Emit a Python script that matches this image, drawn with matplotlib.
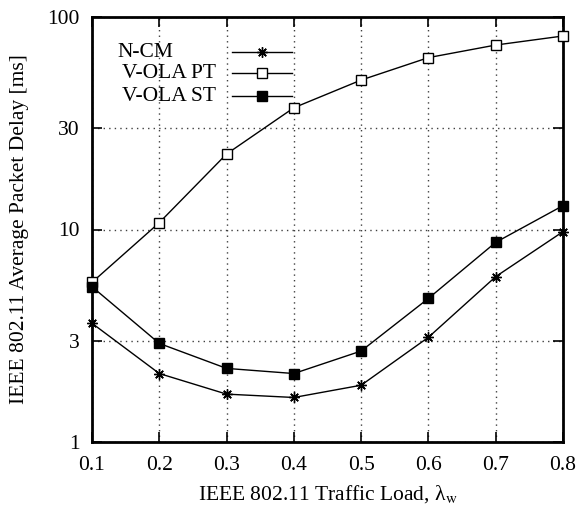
import matplotlib
matplotlib.use("Agg")
import matplotlib.pyplot as plt
from matplotlib.lines import Line2D
from matplotlib.ticker import FixedLocator, NullLocator, FixedFormatter

plt.rcParams['font.family'] = ['Liberation Serif', 'DejaVu Serif']
plt.rcParams['mathtext.fontset'] = 'stix'

load = [0.1, 0.2, 0.3, 0.4, 0.5, 0.6, 0.7, 0.8]
ncm = [3.62, 2.10, 1.68, 1.62, 1.85, 3.11, 6.00, 9.77]
vola_pt = [5.64, 10.77, 22.66, 37.4, 50.5, 64.4, 73.8, 81.4]
vola_st = [5.38, 2.91, 2.22, 2.10, 2.68, 4.74, 8.70, 12.95]
series_names = ['N-CM', 'V-OLA PT', 'V-OLA ST']

xticks = [0.1, 0.2, 0.3, 0.4, 0.5, 0.6, 0.7, 0.8]
xticklabels = ["0.1", "0.2", "0.3", "0.4", "0.5", "0.6", "0.7", "0.8"]
yticks = [1, 3, 10, 30, 100]
yticklabels = ["1", "3", "10", "30", "100"]

fig = plt.figure(figsize=(5.77, 5.07), dpi=100)
ax = fig.add_axes([92/577, 65/507, (563-92)/577, (442-17)/507])

styles = [
    dict(marker=(8, 2, 0), ms=7.5, mew=1, mfc='black', mec='black'),
    dict(marker='s', ms=7.5, mew=1, mfc='white', mec='black'),
    dict(marker='s', ms=7.5, mew=1, mfc='black', mec='black'),
]

for ys, name, st in zip([ncm, vola_pt, vola_st], series_names, styles):
    ax.plot(load, ys, color='black', lw=1, label=name, clip_on=False,
            zorder=3, **st)

ax.set_yscale('log')
ax.set_xlim(0.1, 0.8)
ax.set_ylim(1, 100)
ax.xaxis.set_major_locator(FixedLocator(xticks))
ax.xaxis.set_major_formatter(FixedFormatter(xticklabels))
ax.yaxis.set_major_locator(FixedLocator(yticks))
ax.yaxis.set_major_formatter(FixedFormatter(yticklabels))
ax.xaxis.set_minor_locator(NullLocator())
ax.yaxis.set_minor_locator(NullLocator())

ax.tick_params(axis='both', which='major', direction='in', length=7, width=1.2,
               labelsize=15.5, top=True, right=True, pad=9)
ax.tick_params(axis='x', pad=10)

for s in ax.spines.values():
    s.set_linewidth(2)

ax.grid(True, which='major', color='0.25', linestyle=(0, (1, 3)), lw=1)
ax.set_axisbelow(True)

ax.set_xlabel('IEEE 802.11 Traffic Load, λ$_\\mathrm{w}$', fontsize=15.5, labelpad=6)
ax.set_ylabel('IEEE 802.11 Average Packet Delay [ms]', fontsize=15.5, labelpad=13)

# gnuplot-style key: label text then line sample with marker
text_x = [0.0531, 0.0637, 0.0637]
row_y = [0.9176, 0.8682, 0.8141]
for name, st, tx, ry in zip(series_names, styles, text_x, row_y):
    ax.text(tx, ry, name, transform=ax.transAxes, fontsize=15.5,
            ha='left', va='center')
    ax.add_line(Line2D([0.2972, 0.4246], [ry, ry], transform=ax.transAxes,
                       color='black', lw=1))
    ax.add_line(Line2D([0.3609], [ry], transform=ax.transAxes,
                       color='black', lw=0, **st))

fig.savefig('out.png', dpi=100)
